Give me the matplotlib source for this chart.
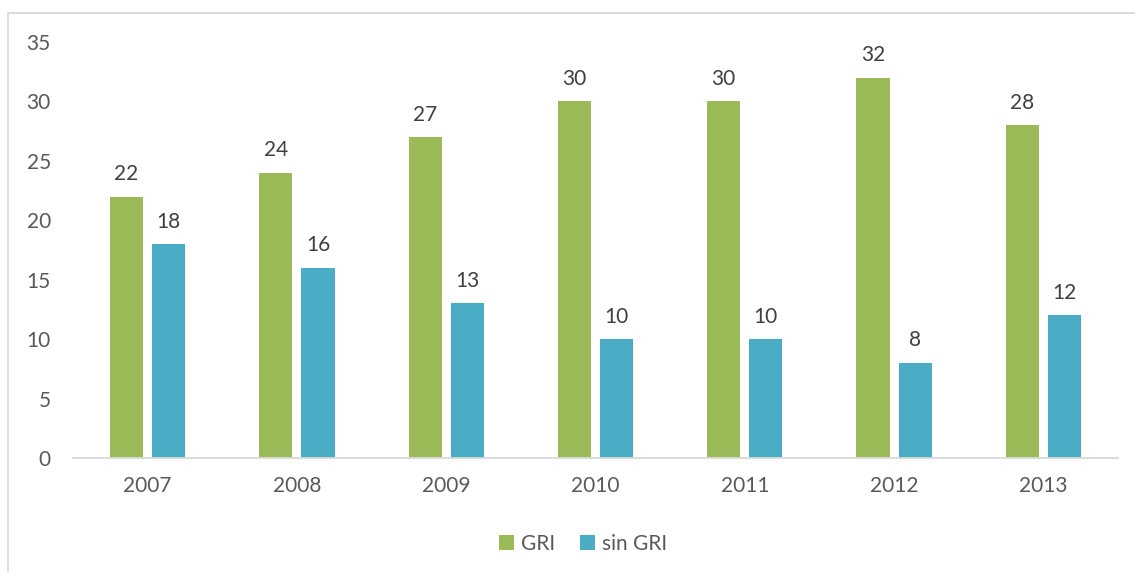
import matplotlib
matplotlib.use("Agg")
import matplotlib.pyplot as plt
from matplotlib.patches import Rectangle
import numpy as np

years = ["2007", "2008", "2009", "2010", "2011", "2012", "2013"]
gri = [22, 24, 27, 30, 30, 32, 28]
sin_gri = [18, 16, 13, 10, 10, 8, 12]
yticks = [0, 5, 10, 15, 20, 25, 30, 35]

plt.rcParams['font.family'] = ['Lato', 'DejaVu Sans']

W, H = 1135, 572
fig = plt.figure(figsize=(W/100, H/100), dpi=100)
ax = fig.add_axes([73/W, (H-458)/H, (1118-73)/W, (458-42)/H])

x = np.arange(len(years))
bw = 0.222
off = 0.141
green = "#9BBB59"
blue = "#4BACC6"
b1 = ax.bar(x - off, gri, bw, color=green, label="GRI")
b2 = ax.bar(x + off, sin_gri, bw, color=blue, label="sin GRI")

for bars, vals in ((b1, gri), (b2, sin_gri)):
    for r, v in zip(bars, vals):
        ax.annotate(str(v), (r.get_x() + r.get_width()/2, v), xytext=(0, 9),
                    textcoords="offset points", ha="center", va="bottom",
                    fontsize=15, color="#404040")

ax.set_xlim(-0.5, len(years) - 0.5)
ax.set_ylim(0, 35)
ax.set_yticks(yticks)
ax.set_xticks(x)
ax.set_xticklabels(years)
for s in ["top", "right", "left"]:
    ax.spines[s].set_visible(False)
ax.spines["bottom"].set_color("#D9D9D9")
ax.spines["bottom"].set_linewidth(1.3)
ax.tick_params(axis="both", length=0, labelsize=15, labelcolor="#595959")
ax.tick_params(axis="y", pad=16)
ax.tick_params(axis="x", pad=13)

leg = fig.legend(handles=[b1, b2], loc="center", bbox_to_anchor=(583/W, (H-544)/H),
                 ncol=2, frameon=False, fontsize=15, handlelength=0.7, handleheight=0.7,
                 columnspacing=1.2, handletextpad=0.35, labelcolor="#595959")

fig.patches.append(Rectangle((8/W, -0.1), 1.2, (H-13)/H + 0.1, transform=fig.transFigure,
                             fill=False, edgecolor="#D9D9D9", linewidth=1.3))

fig.savefig("out.png", dpi=100)
